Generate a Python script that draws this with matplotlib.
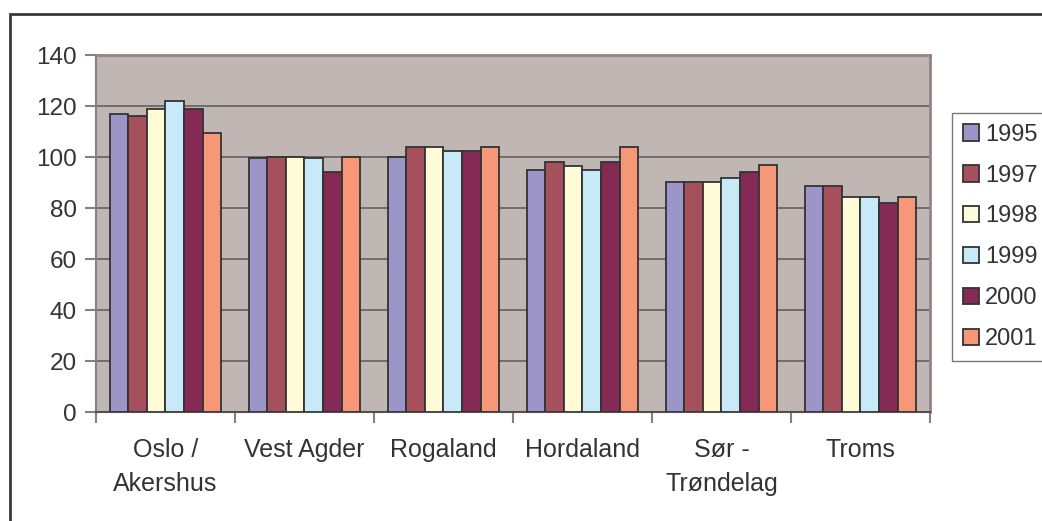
import matplotlib
matplotlib.use("Agg")
import matplotlib.pyplot as plt
import numpy as np
from matplotlib.patches import Rectangle

# Data
regions = ["Oslo /\nAkershus", "Vest Agder", "Rogaland", "Hordaland", "Sør -\nTrøndelag", "Troms"]
years = ["1995", "1997", "1998", "1999", "2000", "2001"]
v1995 = [116.7, 99.5, 100.0, 94.8, 90.2, 88.7]
v1997 = [116.1, 100.0, 103.9, 97.9, 90.2, 88.7]
v1998 = [118.9, 100.0, 103.9, 96.3, 90.2, 84.3]
v1999 = [122.1, 99.5, 102.2, 94.8, 91.9, 84.3]
v2000 = [119.0, 94.0, 102.2, 97.9, 94.0, 82.1]
v2001 = [109.3, 100.0, 103.9, 103.9, 97.0, 84.3]
series = [v1995, v1997, v1998, v1999, v2000, v2001]
colors = ["#9C95C8", "#A5505C", "#FFFBD6", "#C8E9F8", "#842A55", "#F69778"]

plt.rcParams["font.family"] = ["Liberation Sans", "DejaVu Sans"]

fig = plt.figure(figsize=(10.42, 5.21), dpi=100)
ax = fig.add_axes([0.0921, 0.2092, 0.8004, 0.6852])
ax.set_facecolor("#C0B7B4")

# outer frame of the chart (cut off at right and bottom)
fig.add_artist(Rectangle((0.0096, -0.2), 1.3, 0.973 + 0.2, transform=fig.transFigure,
                         fill=False, lw=2, ec="#3a3a3a"))

x = np.arange(len(regions))
bw = 0.134
for i, (yr, vals, c) in enumerate(zip(years, series, colors)):
    ax.bar(x + (i - 2.5) * bw, vals, bw, color=c, edgecolor="#333333", lw=1.3,
           label=yr, zorder=3)

ax.set_xlim(-0.5, len(regions) - 0.5)
ax.set_ylim(0, 140)
ax.set_yticks(range(0, 141, 20))
ax.grid(axis="y", color="#6E6666", lw=1.3, zorder=1)

ax.set_xticks(np.arange(-0.5, len(regions)))
ax.set_xticklabels([])
ax.set_xticks(x, minor=True)
ax.set_xticklabels(regions, minor=True, fontsize=18, color="#333333", linespacing=1.5)
ax.tick_params(axis="x", which="minor", length=0, pad=19)
ax.tick_params(axis="x", which="major", length=8, width=1.5, color="#888080")
ax.tick_params(axis="y", length=8, width=1.5, color="#888080", labelsize=17.5,
               labelcolor="#333333", pad=6)

for s in ["top", "right"]:
    ax.spines[s].set_color("#8F8584")
    ax.spines[s].set_linewidth(2)
ax.spines["left"].set_color("#888080")
ax.spines["left"].set_linewidth(1.5)
ax.spines["bottom"].set_color("#555050")
ax.spines["bottom"].set_linewidth(1.5)

leg = ax.legend(loc="upper left", bbox_to_anchor=(0.9136, 0.783),
                bbox_transform=fig.transFigure, fontsize=17, frameon=True,
                fancybox=False, edgecolor="#555555", handlelength=0.7,
                handleheight=0.7, handletextpad=0.25, labelspacing=0.8,
                borderpad=0.45, borderaxespad=0)
for t in leg.get_texts():
    t.set_color("#333333")
leg.get_frame().set_linewidth(1.0)

fig.savefig("out.png", dpi=100)
